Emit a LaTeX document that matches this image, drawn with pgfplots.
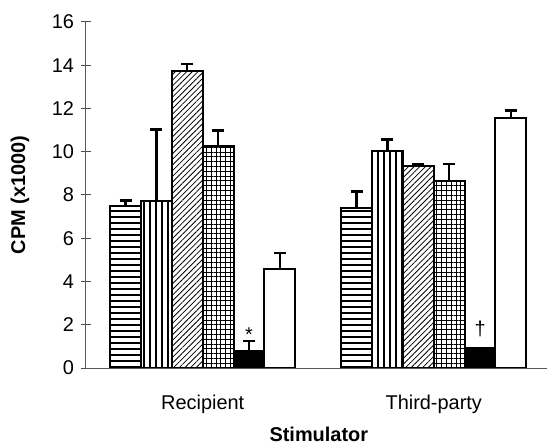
\documentclass[border=0pt]{standalone}
\usepackage{fontspec}
\setmainfont{Liberation Sans}
\usepackage{pgfplots}
\pgfplotsset{compat=1.18}
\usetikzlibrary{patterns.meta}
\begin{document}
\begin{tikzpicture}
\useasboundingbox (-43bp,-38.5bp) rectangle (231bp,184bp);
\begin{axis}[
 scale only axis, width=230.5bp, height=173bp,
 bar width=0.1335,
 xmin=-0.505, xmax=1.49, ymin=0, ymax=16,
 axis lines=left,
 axis line style={draw=gray!70!black, line width=0.5bp, -},
 xtick={0,1}, xticklabels={Recipient,Third-party},
 x tick style={draw=none},
 xticklabel style={anchor=base, yshift=-18bp},
 ytick={0,2,...,16},
 y tick style={draw=gray!60!black, line width=0.5bp},
 tick align=center, major tick length=5bp,
 /pgf/number format/assume math mode=true,
 xlabel={\textbf{Stimulator}}, ylabel={\textbf{CPM (x1000)}},
 xlabel style={at={(axis description cs:0.505,0)}, anchor=base, yshift=-36.9bp},
 ylabel style={at={(axis description cs:-0.143,0.5)}, anchor=center},
 error bars/y dir=plus, error bars/y explicit,
 error bars/error bar style={black, line width=1.2bp},
 error bars/error mark options={black, line width=1.2bp, mark size=3bp, rotate=90},
 every axis plot/.append style={ybar, bar shift=0pt, draw=black, line width=1bp},
]
\addplot[pattern={Lines[angle=0,distance=3bp,line width=0.6bp]}]
 coordinates {(-0.33375,7.48) +- (0,0.27) (0.66625,7.38) +- (0,0.78)};
\addplot[pattern={Lines[angle=90,distance=3bp,line width=0.6bp]}]
 coordinates {(-0.20025,7.73) +- (0,3.30) (0.79975,10.05) +- (0,0.51)};
\addplot[pattern={Lines[angle=45,distance=2bp,line width=0.4bp]}]
 coordinates {(-0.06675,13.72) +- (0,0.34) (0.93325,9.33) +- (0,0.08)};
\addplot[pattern={Hatch[distance=2.4bp,line width=0.5bp]}]
 coordinates {(0.06675,10.25) +- (0,0.74) (1.06675,8.65) +- (0,0.79)};
\addplot[fill=black]
 coordinates {(0.20025,0.80) +- (0,0.46) (1.20025,0.91) +- (0,0)};
\addplot[fill=white]
 coordinates {(0.33375,4.60) +- (0,0.73) (1.33375,11.54) +- (0,0.37)};
\node[anchor=center] at (axis cs:0.20025,1.55) {*};
\node[anchor=center] at (axis cs:1.20025,1.8) {†};
\end{axis}
\end{tikzpicture}
\end{document}
